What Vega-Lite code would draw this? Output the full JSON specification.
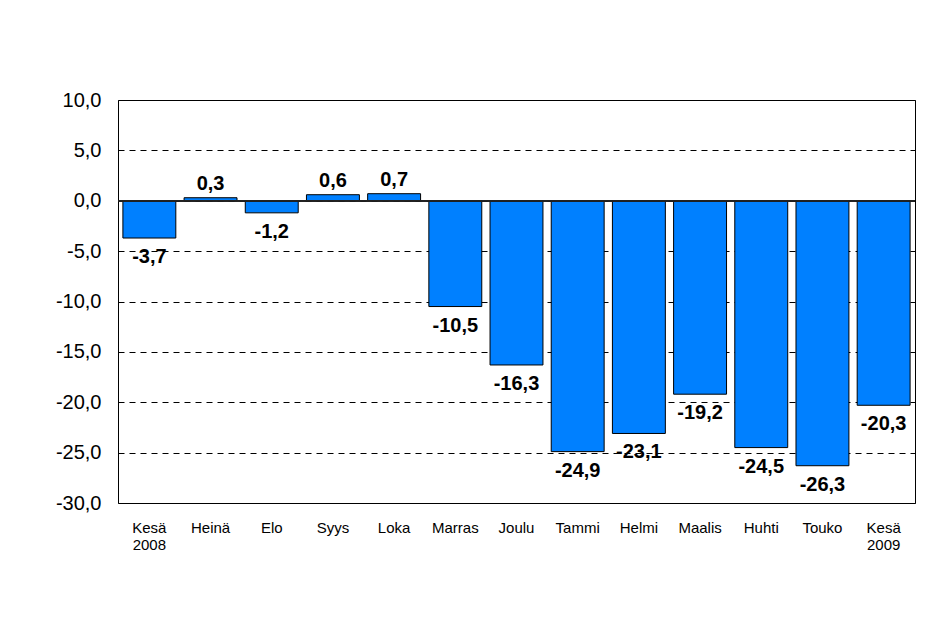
{
  "$schema": "https://vega.github.io/schema/vega-lite/v6.json",
  "width": 797,
  "height": 403,
  "autosize": {"type": "none"},
  "padding": {"left": 118, "top": 100, "right": 23, "bottom": 135},
  "background": "white",
  "config": {
    "font": "Liberation Sans",
    "view": {"stroke": "black", "strokeWidth": 1},
    "locale": {
      "number": {"decimal": ",", "thousands": " ", "grouping": [3], "currency": ["", " €"], "minus": "-"}
    }
  },
  "data": {
    "values": [
      {"month": "Kesä 2008", "value": -3.7},
      {"month": "Heinä", "value": 0.3},
      {"month": "Elo", "value": -1.2},
      {"month": "Syys", "value": 0.6},
      {"month": "Loka", "value": 0.7},
      {"month": "Marras", "value": -10.5},
      {"month": "Joulu", "value": -16.3},
      {"month": "Tammi", "value": -24.9},
      {"month": "Helmi", "value": -23.1},
      {"month": "Maalis", "value": -19.2},
      {"month": "Huhti", "value": -24.5},
      {"month": "Touko", "value": -26.3},
      {"month": "Kesä 2009", "value": -20.3}
    ]
  },
  "encoding": {
    "x": {
      "field": "month",
      "type": "nominal",
      "sort": null,
      "scale": {"paddingInner": 0.135, "paddingOuter": 0.08},
      "axis": {
        "title": null,
        "labelAngle": 0,
        "labelFontSize": 15,
        "labelColor": "black",
        "labelPadding": 17,
        "labelLineHeight": 17,
        "labelBaseline": "top",
        "ticks": false,
        "domain": false,
        "labelExpr": "split(datum.label, ' ')"
      }
    },
    "y": {
      "field": "value",
      "type": "quantitative",
      "scale": {"domain": [-30, 10], "nice": false, "zero": false},
      "axis": {
        "title": null,
        "values": [-30, -25, -20, -15, -10, -5, 0, 5, 10],
        "format": ".1f",
        "labelFontSize": 20,
        "labelColor": "black",
        "labelPadding": 17,
        "ticks": false,
        "domain": false,
        "grid": true,
        "gridColor": "black",
        "gridDash": [6, 5],
        "gridWidth": 1,
        "gridOpacity": 1
      }
    }
  },
  "layer": [
    {
      "mark": {"type": "bar", "color": "#0080FF", "stroke": "black", "strokeWidth": 1}
    },
    {
      "mark": {"type": "rule", "color": "#222222", "strokeWidth": 1},
      "encoding": {"y": {"datum": 0}, "x": null}
    },
    {
      "transform": [{"filter": "datum.value >= 0"}],
      "mark": {"type": "text", "baseline": "bottom", "dy": -4, "fontSize": 20, "fontWeight": "bold", "color": "black"},
      "encoding": {
        "text": {"field": "value", "type": "quantitative", "format": ".1f"}
      }
    },
    {
      "transform": [{"filter": "datum.value < 0"}],
      "mark": {"type": "text", "baseline": "top", "dy": 9, "fontSize": 20, "fontWeight": "bold", "color": "black"},
      "encoding": {
        "text": {"field": "value", "type": "quantitative", "format": ".1f"}
      }
    }
  ]
}
